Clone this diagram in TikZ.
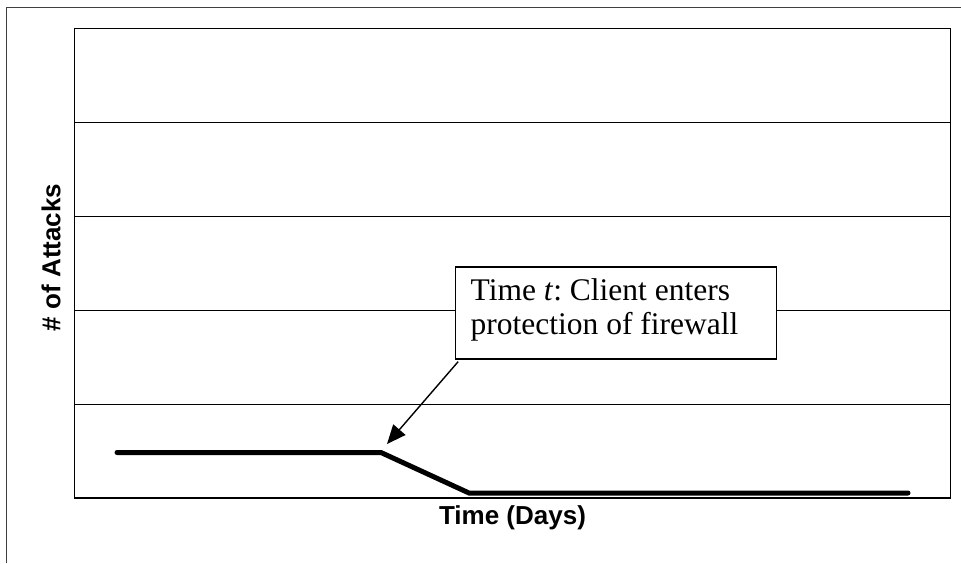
\documentclass[tikz,border=0pt]{standalone}
\usepackage{fontspec}
\setmainfont{Liberation Serif}
\newfontfamily\arialfont{Liberation Sans}
\usetikzlibrary{arrows.meta}
\frenchspacing
\begin{document}
\begin{tikzpicture}[x=1pt,y=-1pt,
  frameline/.style={draw=black!75, line width=1.5pt},
  plotframe/.style={draw=black, line width=1.6pt},
  gridline/.style={draw=black, line width=1pt},
  dataline/.style={draw=black, line width=5pt, line cap=round, line join=miter},
  axislabel/.style={font=\arialfont\bfseries\fontsize{26}{30}\selectfont, inner sep=0pt},
  notetext/.style={font=\fontsize{31.5}{34.5}\selectfont, align=left, inner sep=0pt, anchor=base west},
  pointer/.style={draw=black, line width=1.4pt, -{Triangle[length=19pt,width=16pt]}}
]
\useasboundingbox (0,0) rectangle (961,563);
\fill[white] (0,0) rectangle (961,563);
% outer (cropped) frame: top and left edges only
\draw[frameline] (6.7,563) -- (6.7,7.5) -- (961,7.5);
% grid lines
\foreach \gy in {122,216,310,404}
  \draw[gridline] (74.5,\gy) -- (950.5,\gy);
% plot frame
\draw[plotframe] (74.5,28.5) rectangle (950.5,498);
% data line
\coordinate (d0) at (117,452.5);
\coordinate (d1) at (381,452.5);
\coordinate (d2) at (469,493);
\coordinate (d3) at (908,493);
\draw[dataline] (d0) -- (d1) -- (d2) -- (d3);
% axis labels
\node[axislabel] (xlabel) at (512.5,518) {Time (Days)};
\node[axislabel, rotate=90] (ylabel) at (51,257.5) {\# of Attacks};
% annotation box
\node[draw=black, line width=1.3pt, fill=white, minimum width=321pt, minimum height=92pt, inner sep=0pt] (note) at (616.3,313) {};
\node[notetext] (notetxt) at (470.5,334.5) {Time \textit{t}: Client enters\\protection of firewall};
% arrow
\coordinate (tip) at (387,444);
\draw[pointer] ([shift={(3pt,-2pt)}]note.south west) -- (tip);
\end{tikzpicture}
\end{document}
